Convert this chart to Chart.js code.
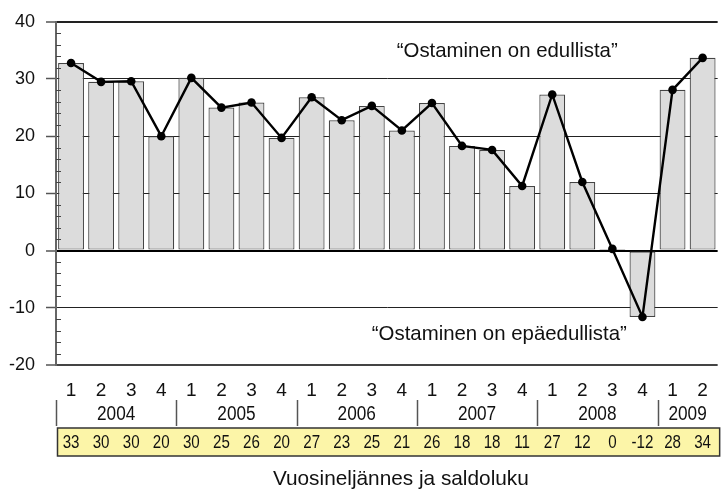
<!DOCTYPE html>
<html>
<head>
<meta charset="utf-8">
<script src="https://cdn.jsdelivr.net/npm/chart.js@4/dist/chart.umd.min.js"></script>
<style>
  html, body { margin: 0; padding: 0; background: #fff; }
  #wrap { width: 722px; height: 490px; }
</style>
</head>
<body>
<div id="wrap"><canvas id="c" width="722" height="490"></canvas></div>
<script>
// ---- data ----
const quarters = ['1','2','3','4','1','2','3','4','1','2','3','4','1','2','3','4','1','2','3','4','1','2'];
const years = ['2004','2005','2006','2007','2008','2009'];
const quartersPerYear = [4, 4, 4, 4, 4, 2];
const balance = [32.8, 29.5, 29.6, 20.0, 30.2, 25.0, 25.9, 19.7, 26.8, 22.8, 25.3, 21.0, 25.8, 18.3, 17.6, 11.3, 27.3, 12.0, 0.3, -11.6, 28.1, 33.7];
const balanceRounded = [33, 30, 30, 20, 30, 25, 26, 20, 27, 23, 25, 21, 26, 18, 18, 11, 27, 12, 0, -12, 28, 34];
const yTicks = [-20, -10, 0, 10, 20, 30, 40];
const noteAbove = '\u201COstaminen on edullista\u201D';
const noteBelow = '\u201COstaminen on ep\u00E4edullista\u201D';
const axisTitle = 'Vuosinelj\u00E4nnes ja saldoluku';

const SANS = "'Liberation Sans', Arial, sans-serif";

function narrowText(ctx, text, cx, cy, sx) {
  ctx.save();
  ctx.translate(cx, cy);
  ctx.scale(sx, 1);
  ctx.fillText(text, 0, 0);
  ctx.restore();
}

const extras = {
  id: 'extras',
  afterDatasetsDraw(chart) {
    const ctx = chart.ctx;
    const y = chart.scales.y;
    const area = chart.chartArea;
    ctx.save();
    // minor ticks on y axis
    ctx.strokeStyle = '#444';
    ctx.lineWidth = 1;
    for (let v = -20; v <= 40; v += 2) {
      if (v % 10 === 0) continue;
      const py = Math.round(y.getPixelForValue(v)) + 0.5;
      ctx.beginPath();
      ctx.moveTo(area.left, py);
      ctx.lineTo(area.left + 5, py);
      ctx.stroke();
    }
    // annotations
    ctx.fillStyle = '#111';
    ctx.font = '20.4px ' + SANS;
    ctx.textAlign = 'center';
    ctx.textBaseline = 'alphabetic';
    ctx.fillText(noteAbove, area.left + (area.right - area.left) * 0.682, y.getPixelForValue(33.8));
    ctx.fillText(noteBelow, area.left + (area.right - area.left) * 0.670, y.getPixelForValue(-15.6));
    ctx.restore();
  },
  afterDraw(chart) {
    const ctx = chart.ctx;
    const x = chart.scales.x;
    const area = chart.chartArea;
    const cat = (x.getPixelForValue(1) - x.getPixelForValue(0));
    ctx.save();
    // year row
    let idx = 0;
    ctx.font = '20px ' + SANS;
    ctx.fillStyle = '#111';
    ctx.textAlign = 'center';
    ctx.textBaseline = 'middle';
    years.forEach((yr, i) => {
      const n = quartersPerYear[i];
      const left = x.getPixelForValue(idx) - cat / 2;
      const right = x.getPixelForValue(idx + n - 1) + cat / 2;
      ctx.strokeStyle = '#555';
      ctx.lineWidth = 1.5;
      ctx.beginPath();
      ctx.moveTo(Math.round(left) + 0.5, 400);
      ctx.lineTo(Math.round(left) + 0.5, 426);
      ctx.stroke();
      narrowText(ctx, yr, (left + right) / 2, 414, 0.86);
      idx += n;
    });
    // table
    const tLeft = area.left + 1.5, tTop = 428, tRight = area.right + 2, tBot = 456;
    ctx.fillStyle = '#fcf5a8';
    ctx.fillRect(tLeft, tTop, tRight - tLeft, tBot - tTop);
    ctx.strokeStyle = '#333';
    ctx.lineWidth = 1.5;
    ctx.strokeRect(tLeft, tTop, tRight - tLeft, tBot - tTop);
    ctx.fillStyle = '#111';
    ctx.font = '18px ' + SANS;
    balanceRounded.forEach((v, i) => {
      narrowText(ctx, String(v), x.getPixelForValue(i), 443, 0.84);
    });
    // axis title
    ctx.font = '20.8px ' + SANS;
    ctx.fillText(axisTitle, (area.left + area.right) / 2 + 14, 479);
    ctx.restore();
  }
};

new Chart(document.getElementById('c'), {
  data: {
    labels: quarters,
    datasets: [
      {
        type: 'line',
        data: balance,
        borderColor: '#000',
        borderWidth: 2.4,
        pointRadius: 4.3,
        pointBackgroundColor: '#000',
        pointBorderColor: '#000',
        pointBorderWidth: 0,
        tension: 0,
        order: 0
      },
      {
        type: 'bar',
        data: balance,
        backgroundColor: '#dcdcdc',
        borderColor: '#444',
        borderWidth: 1.2,
        borderSkipped: false,
        barPercentage: 0.86,
        categoryPercentage: 1,
        order: 1
      }
    ]
  },
  options: {
    responsive: false,
    animation: false,
    devicePixelRatio: 1,
    layout: { padding: { top: 20, right: 0, left: 0, bottom: 0 } },
    plugins: { legend: { display: false }, tooltip: { enabled: false } },
    scales: {
      x: {
        type: 'category',
        offset: true,
        grid: { display: false, drawTicks: false },
        border: { display: false },
        ticks: {
          color: '#111',
          font: { family: SANS, size: 19 },
          padding: 14,
          maxRotation: 0,
          autoSkip: false
        },
        afterFit(scale) { scale.height = 125; }
      },
      y: {
        min: -20,
        max: 40,
        afterBuildTicks(scale) { scale.ticks = yTicks.map(v => ({ value: v })); },
        grid: {
          tickLength: 10,
          color(ctx) {
            const v = ctx.tick && ctx.tick.value;
            if (v === 0) return '#000';
            if (v === -20) return '#444';
            return '#222';
          },
          lineWidth(ctx) {
            const v = ctx.tick && ctx.tick.value;
            if (v === 0 || v === 40 || v === -20) return 2;
            return 1;
          },
          tickColor: '#555',
          tickWidth: 1.5
        },
        border: { display: true, color: '#666', width: 2 },
        ticks: {
          color: '#111',
          font: { family: SANS, size: 18 },
          padding: 11
        },
        afterFit(scale) { scale.width = 56; }
      }
    }
  },
  plugins: [extras]
});
</script>
</body>
</html>
